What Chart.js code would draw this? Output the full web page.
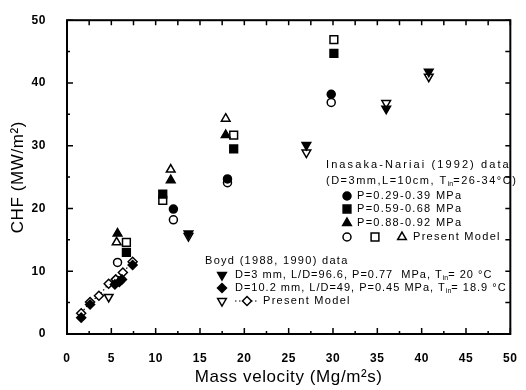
<!DOCTYPE html>
<html>
<head>
<meta charset="utf-8">
<script src="https://cdn.jsdelivr.net/npm/chart.js@4.4.1/dist/chart.umd.min.js"></script>
<style>
    body { margin: 0; background: #fff; }
    canvas { display: block; }
</style>
</head>
<body>
<canvas id="myChart" width="526" height="390"></canvas>
<script>
// Inasaka-Nariai (1992) data: [mass velocity, CHF]
var inasakaLow = [[12.0, 19.9], [18.1, 24.7], [29.8, 38.2]];
var inasakaMid = [[6.7, 13.0], [10.8, 22.3], [18.8, 29.5], [30.1, 44.7]];
var inasakaHigh = [[5.7, 16.0], [11.7, 24.5], [17.9, 31.7]];
var modelLow = [[5.7, 11.4], [12.0, 18.2], [18.1, 24.1], [29.8, 36.9]];
var modelMid = [[6.7, 14.6], [10.8, 21.3], [18.8, 31.7], [30.1, 46.9]];
var modelHigh = [[5.6, 14.6], [11.7, 26.2], [17.9, 34.3]];

// Boyd (1988, 1990) data
var boydD3 = [[13.7, 16.0], [27.0, 30.1], [36.0, 35.9], [40.8, 41.8]];
var boydD10 = [[1.6, 2.6], [2.6, 4.7], [5.4, 7.9], [5.9, 8.3], [6.2, 8.7], [7.4, 11.0]];
var boydModelD3 = [[4.7, 5.9], [13.7, 15.6], [27.0, 28.9], [36.0, 36.8], [40.8, 41.0]];
var boydModelD10 = [[1.6, 3.3], [2.6, 5.1], [3.6, 6.1], [4.7, 8.0], [5.5, 8.7], [6.3, 9.8], [7.4, 11.5]];

var FONT = '"Liberation Sans", Arial, sans-serif';

function pts(arr) {
    return arr.map(function (p) { return { x: p[0], y: p[1] }; });
}

function ds(label, arr, style, radius, filled, rotation) {
    return {
        label: label,
        data: pts(arr),
        showLine: false,
        pointStyle: style,
        pointRadius: radius,
        pointRotation: rotation || 0,
        pointBorderWidth: 1.5,
        pointBorderColor: '#000',
        pointBackgroundColor: filled ? '#000' : '#fff'
    };
}

var boydLine = ds('Boyd model D=10.2', boydModelD10, 'rectRot', 4.5, false);
boydLine.showLine = true;
boydLine.borderColor = '#000';
boydLine.borderWidth = 1.2;
boydLine.borderDash = [1.5, 2.5];

// marker look for each legend row, same as in the plot
var mk = {
    circle: { pointStyle: 'circle', radius: 4, rotation: 0 },
    rect: { pointStyle: 'rect', radius: 5.5, rotation: 0 },
    tri: { pointStyle: 'triangle', radius: 5, rotation: 0 },
    triDown: { pointStyle: 'triangle', radius: 5, rotation: 180 },
    diamond: { pointStyle: 'rectRot', radius: 4.5, rotation: 0 }
};

function marker(ctx, m, x, y, filled) {
    ctx.save();
    ctx.lineWidth = 1.5;
    ctx.strokeStyle = '#000';
    ctx.fillStyle = filled ? '#000' : '#fff';
    Chart.helpers.drawPoint(ctx, { pointStyle: m.pointStyle, radius: m.radius, rotation: m.rotation, borderWidth: 1.5 }, x, y);
    ctx.restore();
}

function rich(ctx, x, y, parts, spacing) {
    parts.forEach(function (p) {
        var t = p, dy = 0, size = 11;
        ctx.letterSpacing = spacing + 'px';
        if (typeof p !== 'string') { t = p.sub; dy = 3; size = 7; ctx.letterSpacing = '0px'; }
        ctx.font = size + 'px ' + FONT;
        ctx.fillText(t, x, y + dy);
        x += ctx.measureText(t).width;
    });
}

var framePlugin = {
    id: 'frame',
    beforeDraw: function (chart) {
        chart.ctx.letterSpacing = '0.6px';
    },
    afterDraw: function (chart) {
        var ctx = chart.ctx, a = chart.chartArea;
        var xs = chart.scales.x, ys = chart.scales.y;
        ctx.save();
        ctx.strokeStyle = '#000';
        ctx.lineWidth = 2;
        ctx.strokeRect(a.left, a.top, a.right - a.left, a.bottom - a.top);

        // inward ticks on all four sides
        ctx.lineWidth = 1.5;
        ctx.beginPath();
        for (var v = 0; v <= 50; v += 2.5) {
            var px = xs.getPixelForValue(v);
            var len = v % 5 === 0 ? 6 : 3;
            ctx.moveTo(px, a.bottom); ctx.lineTo(px, a.bottom - len);
            ctx.moveTo(px, a.top); ctx.lineTo(px, a.top + 5);
        }
        for (var w = 0; w <= 50; w += 5) {
            var py = ys.getPixelForValue(w);
            var l2 = w % 10 === 0 ? 6 : 3;
            ctx.moveTo(a.left, py); ctx.lineTo(a.left + l2, py);
            ctx.moveTo(a.right, py); ctx.lineTo(a.right - 5, py);
        }
        ctx.stroke();

        // legend block drawn as text inside the plot
        ctx.fillStyle = '#000';
        ctx.textBaseline = 'middle';
        ctx.textAlign = 'left';
        rich(ctx, 326, 165, ['Inasaka-Nariai (1992) data'], 2.1);
        rich(ctx, 326, 181, ['(D=3mm,L=10cm, T', { sub: 'in' }, '=26-34°C)'], 1.5);
        marker(ctx, mk.circle, 347, 196, true);
        rich(ctx, 357, 196, ['P=0.29-0.39 MPa'], 1.3);
        marker(ctx, mk.rect, 347, 209, true);
        rich(ctx, 357, 209, ['P=0.59-0.68 MPa'], 1.3);
        marker(ctx, mk.tri, 347, 223, true);
        rich(ctx, 357, 223, ['P=0.88-0.92 MPa'], 1.3);
        marker(ctx, mk.circle, 347, 237, false);
        marker(ctx, mk.rect, 375, 237, false);
        marker(ctx, mk.tri, 402, 237, false);
        rich(ctx, 413, 237, ['Present Model'], 1.3);

        rich(ctx, 205, 261, ['Boyd (1988, 1990) data'], 1.3);
        marker(ctx, mk.triDown, 222, 275, true);
        rich(ctx, 235, 275, ['D=3 mm, L/D=96.6, P=0.77  MPa, T', { sub: 'in' }, '= 20 °C'], 1.0);
        marker(ctx, mk.diamond, 222, 288, true);
        rich(ctx, 235, 288, ['D=10.2 mm, L/D=49, P=0.45 MPa, T', { sub: 'in' }, '= 18.9 °C'], 1.0);
        marker(ctx, mk.triDown, 222, 301, false);
        ctx.lineWidth = 1.2;
        ctx.setLineDash([1.5, 2.5]);
        ctx.beginPath();
        ctx.moveTo(235, 301); ctx.lineTo(259, 301);
        ctx.stroke();
        ctx.setLineDash([]);
        marker(ctx, mk.diamond, 247, 301, false);
        rich(ctx, 263, 301, ['Present Model'], 1.3);
        ctx.restore();
    }
};

var ctx = document.getElementById('myChart').getContext('2d');

var myChart = new Chart(ctx, {
    type: 'scatter',
    data: {
        datasets: [
            ds('P=0.29-0.39 MPa', inasakaLow, 'circle', 4, true),
            ds('P=0.59-0.68 MPa', inasakaMid, 'rect', 5.5, true),
            ds('P=0.88-0.92 MPa', inasakaHigh, 'triangle', 5, true),
            ds('Model 0.29-0.39', modelLow, 'circle', 4, false),
            ds('Model 0.59-0.68', modelMid, 'rect', 5.5, false),
            ds('Model 0.88-0.92', modelHigh, 'triangle', 5, false),
            ds('Boyd D=3 mm', boydD3, 'triangle', 5, true, 180),
            ds('Boyd D=10.2 mm', boydD10, 'rectRot', 4.5, true),
            ds('Boyd model D=3', boydModelD3, 'triangle', 5, false, 180),
            boydLine
        ]
    },
    options: {
        responsive: false,
        animation: false,
        devicePixelRatio: 1,
        layout: { padding: { top: 12, right: 4, left: 0, bottom: 0 } },
        plugins: {
            legend: { display: false },
            tooltip: { enabled: false }
        },
        scales: {
            x: {
                type: 'linear',
                min: 0,
                max: 50,
                grid: { display: false },
                border: { display: false },
                ticks: {
                    stepSize: 5,
                    color: '#000',
                    padding: 9,
                    maxRotation: 0,
                    font: { family: FONT, size: 12, weight: 'bold' }
                },
                title: {
                    display: true,
                    text: 'Mass velocity (Mg/m²s)',
                    color: '#000',
                    padding: { top: 0, bottom: 2 },
                    font: { family: FONT, size: 17 }
                },
                afterFit: function (s) { s.height = 56; }
            },
            y: {
                type: 'linear',
                min: 0,
                max: 50,
                grid: { display: false },
                border: { display: false },
                ticks: {
                    stepSize: 10,
                    color: '#000',
                    padding: 13,
                    font: { family: FONT, size: 12, weight: 'bold' }
                },
                title: {
                    display: true,
                    text: 'CHF (MW/m²)',
                    color: '#000',
                    padding: { top: 8, bottom: 0 },
                    font: { family: FONT, size: 17 }
                },
                afterFit: function (s) { s.width = 67; }
            }
        }
    },
    plugins: [framePlugin]
});
</script>
</body>
</html>
